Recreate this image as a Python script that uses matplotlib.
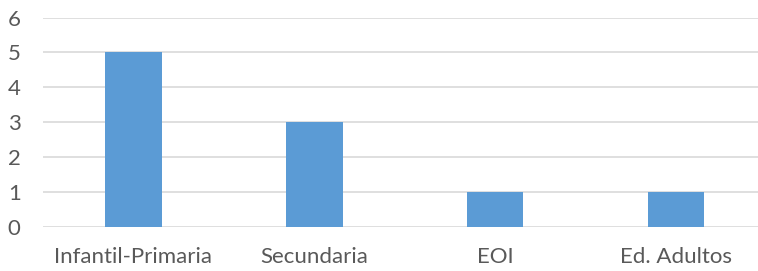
import matplotlib.pyplot as plt

categorias = ["Infantil-Primaria", "Secundaria", "EOI", "Ed. Adultos"]
valores = [5, 3, 1, 1]

plt.rcParams['font.family'] = ['Lato', 'DejaVu Sans']

fig = plt.figure(figsize=(7.58, 2.71), dpi=100)
ax = fig.add_axes([0.0566, 0.1642, 0.9546, 0.7712])

x = range(len(categorias))
ax.bar(x, valores, width=0.313, color='#5B9BD5', zorder=3)

ax.set_xlim(-0.5, len(categorias) - 0.5)
ax.set_ylim(0, 6)
ax.set_yticks(range(0, 7))
ax.set_xticks(list(x))
ax.set_xticklabels(categorias)

ax.grid(axis='y', color='#D9D9D9', linewidth=1.2, zorder=0)
ax.set_axisbelow(True)
for s in ax.spines.values():
    s.set_visible(False)
ax.tick_params(axis='both', length=0, colors='#595959', labelsize=16)
ax.tick_params(axis='y', pad=16)
ax.tick_params(axis='x', pad=15)

fig.savefig('out.png', dpi=100)
